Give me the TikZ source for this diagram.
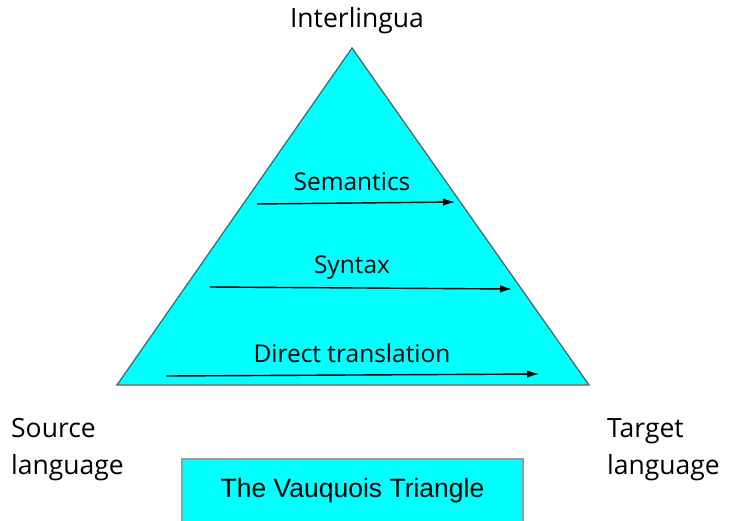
\documentclass[tikz,border=0pt]{standalone}
\usepackage{fontspec}
\setmainfont{Open Sans}
\newfontfamily\boxfont{Liberation Sans}
\usetikzlibrary{arrows.meta,positioning}
\definecolor{vqcyan}{HTML}{00FFFF}
\tikzset{%
  % classes
  lbl/.style={font=\fontsize{24.5}{36}\selectfont, inner sep=0pt},
  corner/.style={font=\fontsize{26.5}{37}\selectfont, inner sep=0pt},
  side/.style={corner, align=left, anchor=north west},
  tri/.style={draw=black!62, fill=vqcyan, line width=1.3pt, line join=miter},
  box/.style={draw=black!40, fill=vqcyan, line width=1.3pt, inner sep=0pt,
    font=\boxfont\fontsize{26.5}{30}\selectfont},
  % edge styles
  rel/.style={-{Latex[length=12pt,width=7.5pt]}, line width=1.4pt},
}

\begin{document}
\begin{tikzpicture}[x=1pt, y=-1pt]
  \useasboundingbox (0,0) rectangle (730,520);

  % Triangle
  \coordinate (apex) at (352,48);
  \coordinate (src) at (117,385);
  \coordinate (tgt) at (589,385);
  \draw[tri] (src) -- (apex) -- (tgt) -- cycle;

  % Levels
  \node[lbl] (semantics) at (352,182) {Semantics};
  \coordinate (sem_a) at (257,204);
  \coordinate (sem_b) at (455,202);
  \node[lbl] (syntax) at (352,268) {Syntax};
  \coordinate (syn_a) at (210,287);
  \coordinate (syn_b) at (512,289);
  \node[lbl] (direct) at (352,353) {Direct translation};
  \coordinate (dir_a) at (166,376);
  \coordinate (dir_b) at (539,374);

  % Links
  \draw[rel] (sem_a) -- (sem_b);
  \draw[rel] (syn_a) -- (syn_b);
  \draw[rel] (dir_a) -- (dir_b);

  % Corners
  \node[corner] (interlingua) at (357,21) {Interlingua};
  \node[side] (source) at (11,418) {Source\\language};
  \node[side] (target) at (607,418) {Target\\language};

  % Caption box
  \node[box, minimum width=341pt, minimum height=64pt] (caption) at (352.5,491) {The Vauquois Triangle};

\end{tikzpicture}
\end{document}
